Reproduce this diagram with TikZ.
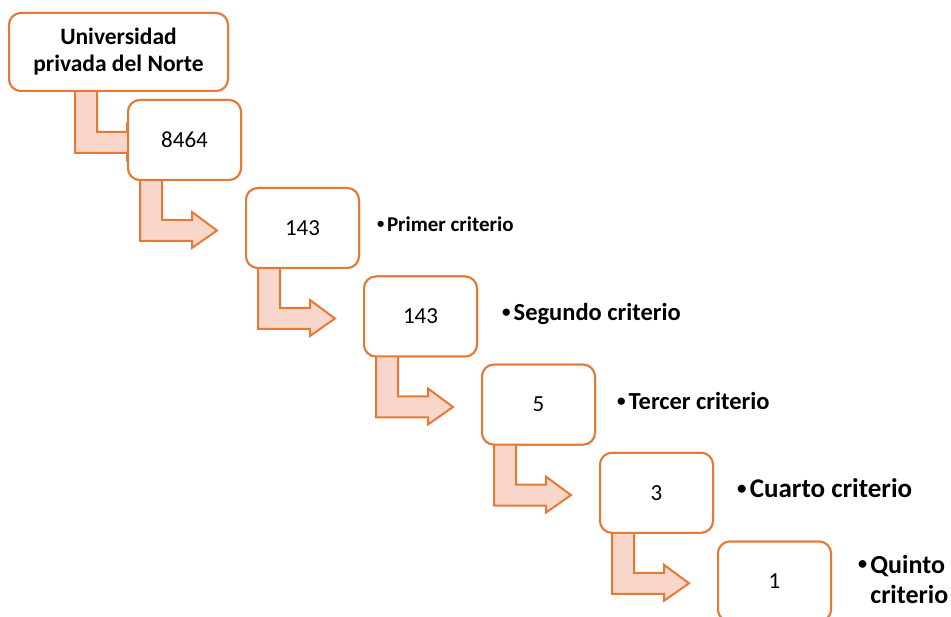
\documentclass[tikz,border=0pt]{standalone}
\usepackage{fontspec}
\setmainfont{Carlito}
\usetikzlibrary{calc}
\definecolor{orng}{HTML}{E57A36}
\definecolor{salmon}{HTML}{F8D7CA}
\newcommand{\bul}{\raisebox{0.12em}{\scalebox{0.7}{•}}\hspace{0.12em}}
\tikzset{
  box/.style={draw=orng, line width=2pt, fill=white, rounded corners=12pt,
    minimum width=113pt, minimum height=80pt, inner sep=0pt, font=\fontsize{23}{27}\selectfont},
  titlebox/.style={box, minimum width=219pt, minimum height=78pt,
    font=\bfseries\fontsize{23.5}{27}\selectfont, align=center},
  barrow/.style={draw=orng, line width=2pt, fill=salmon, line join=miter},
  lbl/.style={anchor=west, inner sep=0pt, align=left}
}
\newcommand{\bentarr}[1]{%
  \draw[barrow] ($(#1.south west)+(13,-2)$) -- ++(0,62) -- ++(52,0) -- ++(0,7)
    -- ++(25,-17.5) -- ++(-25,-18.5) -- ++(0,8) -- ++(-30,0) -- ++(0,-41) -- cycle;}
\begin{document}
\begin{tikzpicture}[x=1pt,y=-1pt]
\useasboundingbox (0,0) rectangle (951,617);
\clip (0,0) rectangle (951,617);
% nodes (placed first for names), then redrawn on top
\path (118.5,52) node[titlebox] (b0) {Universidad\\privada del Norte};
\path (184.5,140) node[box] (b1) {};
\path (302.5,228) node[box] (b2) {};
\path (420.5,316.5) node[box] (b3) {};
\path (538.5,404.6) node[box] (b4) {};
\path (656.5,492.8) node[box] (b5) {};
\path (774.5,581.5) node[box] (b6) {};
% first bent arrow (head hidden under b1)
\draw[barrow] ($(b0.south west)+(67,-2)$) -- ++(0,63) -- ++(52,0) -- ++(0,7)
    -- ++(25,-17.5) -- ++(-25,-18.5) -- ++(0,8) -- ++(-30,0) -- ++(0,-42) -- cycle;
\bentarr{b1}
\bentarr{b2}
\bentarr{b3}
\bentarr{b4}
\bentarr{b5}
% boxes on top
\path (b0) node[titlebox] {Universidad\\privada del Norte};
\path (b1) node[box] {8464};
\path (b2) node[box] {143};
\path (b3) node[box] {143};
\path (b4) node[box] {5};
\path (b5) node[box] {3};
\path (b6) node[box] {1};
% labels
\node[lbl, font=\bfseries\fontsize{21}{25}\selectfont] (l1) at (377,224) {\bul Primer criterio};
\node[lbl, font=\bfseries\fontsize{24.5}{29}\selectfont] (l2) at (502,314) {\bul Segundo criterio};
\node[lbl, font=\bfseries\fontsize{24.5}{29}\selectfont] (l3) at (617,401) {\bul Tercer criterio};
\node[lbl, font=\bfseries\fontsize{27}{31}\selectfont] (l4) at (737,488) {\bul Cuarto criterio};
\node[lbl, font=\bfseries\fontsize{26}{30}\selectfont] (l5) at (858,579) {\bul Quinto\\\hphantom{\bul}criterio};
\end{tikzpicture}
\end{document}
